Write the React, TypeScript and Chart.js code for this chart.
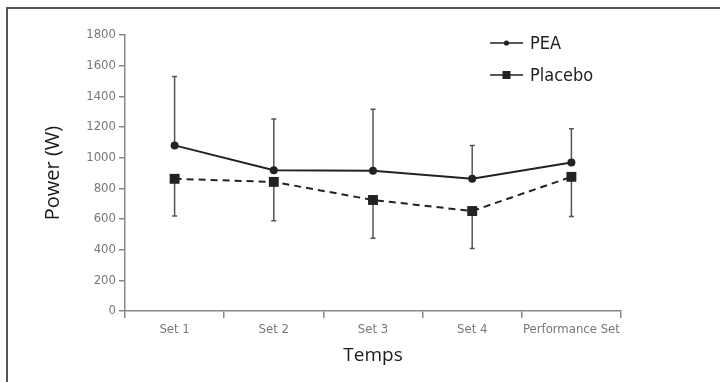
import React, { useEffect, useRef } from "react";
import { Chart, registerables } from "chart.js";

Chart.register(...registerables);

const categories = ["Set 1", "Set 2", "Set 3", "Set 4", "Performance Set"];
const peaValues = [1080, 918, 915, 862, 968];
const peaErrorTop = [1530, 1252, 1315, 1080, 1188];
const placeboValues = [862, 842, 724, 652, 875];
const placeboErrorBottom = [620, 588, 475, 408, 617];
const yMin = 0;
const yMax = 1800;
const yStep = 200;
const legendLabels = ["PEA", "Placebo"];

const NARROW = '"Liberation Sans Narrow", "DejaVu Sans Condensed", "Noto Sans", sans-serif';
const TITLE = '"Open Sans", "Noto Sans", sans-serif';

const errorBarPlugin = {
  id: "errorBars",
  beforeDatasetsDraw(chart: any) {
    const ctx = chart.ctx;
    const yScale = chart.scales.y;
    const ends = [peaErrorTop, placeboErrorBottom];
    ctx.save();
    ctx.strokeStyle = "#555";
    ctx.lineWidth = 1.5;
    ends.forEach((arr, di) => {
      const meta = chart.getDatasetMeta(di);
      const vals = chart.data.datasets[di].data as number[];
      meta.data.forEach((pt: any, i: number) => {
        const x = pt.x;
        const y0 = yScale.getPixelForValue(vals[i]);
        const y1 = yScale.getPixelForValue(arr[i]);
        ctx.beginPath();
        ctx.moveTo(x, y0);
        ctx.lineTo(x, y1);
        ctx.moveTo(x - 2.5, y1);
        ctx.lineTo(x + 2.5, y1);
        ctx.stroke();
      });
    });
    ctx.restore();
  },
};

const legendPlugin = {
  id: "customLegend",
  afterDraw(chart: any) {
    const ctx = chart.ctx;
    ctx.save();
    const x0 = 490;
    const x1 = 523;
    const rows = [43, 75];
    rows.forEach((y, i) => {
      ctx.strokeStyle = "#222";
      ctx.lineWidth = 1.5;
      ctx.setLineDash([]);
      ctx.beginPath();
      ctx.moveTo(x0, y);
      ctx.lineTo(x1, y);
      ctx.stroke();
      ctx.fillStyle = "#222";
      const mx = (x0 + x1) / 2;
      if (i === 0) {
        ctx.beginPath();
        ctx.arc(mx, y, 2.6, 0, Math.PI * 2);
        ctx.fill();
      } else {
        ctx.fillRect(mx - 4, y - 4, 8, 8);
      }
      ctx.font = `18px ${NARROW}`;
      ctx.textBaseline = "middle";
      ctx.textAlign = "left";
      ctx.fillText(legendLabels[i], 530, y + 1);
    });
    ctx.restore();
  },
};

export default function App() {
  const ref = useRef<HTMLCanvasElement | null>(null);

  useEffect(() => {
    if (!ref.current) return;
    const chart = new Chart(ref.current, {
      type: "line",
      data: {
        labels: categories,
        datasets: [
          {
            label: legendLabels[0],
            data: peaValues,
            borderColor: "#222",
            backgroundColor: "#222",
            borderWidth: 2,
            pointStyle: "circle",
            pointRadius: 4,
            pointBorderWidth: 0,
            pointBackgroundColor: "#222",
            tension: 0,
            fill: false,
          },
          {
            label: legendLabels[1],
            data: placeboValues,
            borderColor: "#222",
            backgroundColor: "#222",
            borderWidth: 2,
            borderDash: [7, 5],
            pointStyle: "rect",
            pointRadius: 7,
            pointBorderWidth: 0,
            pointBackgroundColor: "#222",
            tension: 0,
            fill: false,
          },
        ],
      },
      options: {
        animation: false,
        responsive: false,
        maintainAspectRatio: false,
        events: [],
        layout: { padding: { left: 0, top: 35, right: 99, bottom: 0 } },
        plugins: {
          legend: { display: false },
          tooltip: { enabled: false },
        },
        scales: {
          x: {
            type: "category",
            offset: true,
            grid: {
              offset: true,
              drawOnChartArea: false,
              drawTicks: true,
              tickLength: 7,
              color: "#888",
              lineWidth: 1.5,
            },
            border: { color: "#888", width: 1.5 },
            ticks: {
              color: "#777",
              font: { family: NARROW, size: 13 },
              padding: 4,
              maxRotation: 0,
              autoSkip: false,
            },
            title: {
              display: true,
              text: "Temps",
              color: "#1a1a1a",
              font: { family: TITLE, size: 19 },
              padding: { top: 0, bottom: 15 },
            },
            afterFit(scale: any) {
              scale.height = 71;
            },
          },
          y: {
            min: yMin,
            max: yMax,
            grid: {
              drawOnChartArea: false,
              drawTicks: true,
              tickLength: 6,
              color: "#888",
              lineWidth: 1.5,
            },
            border: { color: "#888", width: 1.5 },
            ticks: {
              stepSize: yStep,
              color: "#777",
              font: { family: NARROW, size: 13 },
              padding: 3,
              callback: (v: any) => String(v),
            },
            title: {
              display: true,
              text: "Power (W)",
              color: "#1a1a1a",
              font: { family: TITLE, size: 20 },
              padding: { top: 41, bottom: 0 },
            },
            afterFit(scale: any) {
              scale.width = 125;
            },
          },
        },
      },
      plugins: [errorBarPlugin, legendPlugin],
    } as any);
    return () => chart.destroy();
  }, []);

  return (
    <div
      style={{
        position: "absolute",
        left: 0,
        top: 0,
        width: 720,
        height: 382,
        overflow: "hidden",
        background: "#fff",
      }}
    >
      <div
        style={{
          position: "absolute",
          left: 6,
          top: 7,
          width: 730,
          height: 400,
          border: "2px solid #555",
          boxSizing: "border-box",
        }}
      />
      <canvas
        ref={ref}
        width={720}
        height={382}
        style={{ position: "absolute", left: 0, top: 0, width: 720, height: 382 }}
      />
    </div>
  );
}
